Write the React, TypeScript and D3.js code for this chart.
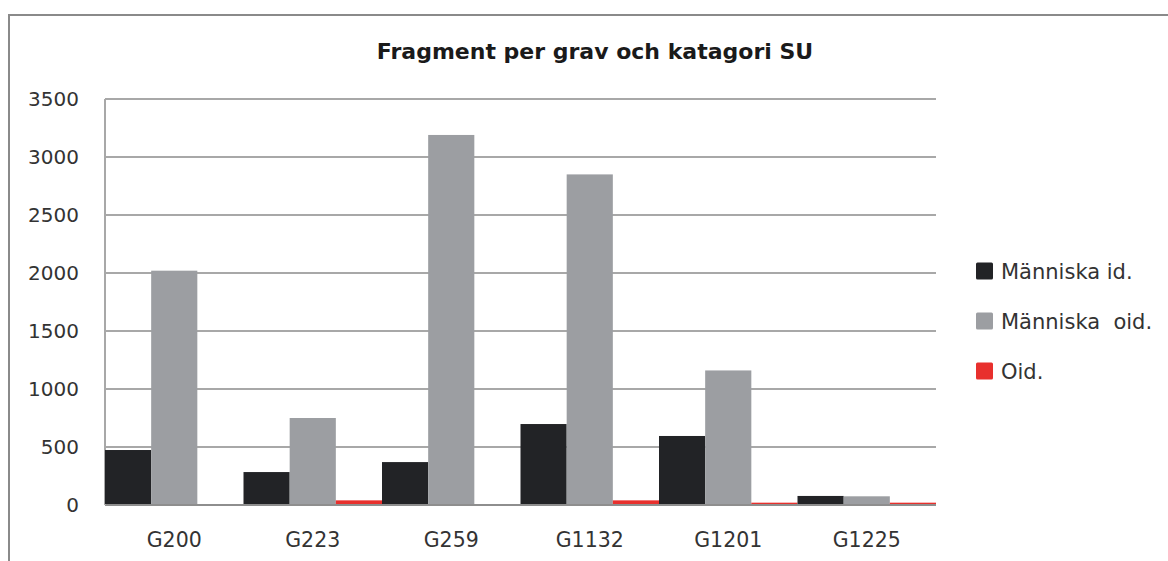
import { useMemo } from "react";
import * as d3 from "d3";

const graves = ["G200", "G223", "G259", "G1132", "G1201", "G1225"];
const seriesNames = ["Människa id.", "Människa  oid.", "Oid."];
const manniskaId = [474, 284, 370, 698, 595, 78];
const manniskaOid = [2020, 750, 3190, 2850, 1160, 75];
const oid = [0, 40, 0, 40, 20, 20];
const yTicks = [0, 500, 1000, 1500, 2000, 2500, 3000, 3500];
const colors = ["#222326", "#9c9ea2", "#e8302d"];

const W = 1168;
const H = 561;
const plot = { left: 105, right: 936, top: 99, bottom: 505 };
const font = "'DejaVu Sans', Verdana, sans-serif";

export default function App() {
  const series = [manniskaId, manniskaOid, oid];

  const x = useMemo(
    () => d3.scaleBand<string>().domain(graves).range([plot.left, plot.right]).padding(0),
    [],
  );
  const inner = useMemo(
    () => d3.scaleBand<number>().domain([0, 1, 2]).range([0, x.bandwidth()]).padding(0),
    [x],
  );
  const y = useMemo(
    () => d3.scaleLinear().domain([0, 3500]).range([plot.bottom, plot.top]),
    [],
  );

  return (
    <svg
      width={W}
      height={H}
      style={{ position: "absolute", left: 0, top: 0, background: "#fff" }}
    >
      {/* chart frame */}
      <path d={`M9,${H} L9,15 L${W},15`} fill="none" stroke="#8a8a8a" strokeWidth={2} />

      <text
        x={595}
        y={59}
        textAnchor="middle"
        fontFamily={font}
        fontWeight="bold"
        fontSize={22}
        fill="#1a1a1a"
      >
        Fragment per grav och katagori SU
      </text>

      {/* gridlines */}
      {yTicks.map((t) => (
        <line
          key={t}
          x1={plot.left}
          x2={plot.right}
          y1={y(t)}
          y2={y(t)}
          stroke={t === 0 ? "#8e8e8e" : "#a8a8a8"}
          strokeWidth={2}
        />
      ))}
      <line x1={plot.left} x2={plot.left} y1={plot.top} y2={plot.bottom} stroke="#a8a8a8" strokeWidth={2} />

      {yTicks.map((t) => (
        <text
          key={t}
          x={79}
          y={y(t)}
          dy="0.36em"
          textAnchor="end"
          fontFamily={font}
          fontSize={20}
          fill="#333"
        >
          {t}
        </text>
      ))}

      {/* bars */}
      {graves.map((g, gi) => (
        <g key={g} transform={`translate(${x(g)},0)`}>
          {series.map((s, si) => {
            const v = s[gi];
            if (!v) return null;
            return (
              <rect
                key={si}
                x={inner(si)}
                y={y(v)}
                width={inner.bandwidth()}
                height={y(0) - y(v) - 1}
                fill={colors[si]}
              />
            );
          })}
        </g>
      ))}

      {graves.map((g) => (
        <text
          key={g}
          x={(x(g) ?? 0) + x.bandwidth() / 2}
          y={547}
          textAnchor="middle"
          fontFamily={font}
          fontSize={20.5}
          fill="#333"
        >
          {g}
        </text>
      ))}

      {/* legend */}
      {seriesNames.map((name, i) => (
        <g key={name} transform={`translate(976,${271 + i * 50})`}>
          <rect x={0} y={-8.5} width={17} height={17} rx={1.5} fill={colors[i]} />
          <text
            x={25}
            y={0}
            dy="0.36em"
            fontFamily={font}
            fontSize={21}
            fill="#333"
            style={{ whiteSpace: "pre" }}
          >
            {name}
          </text>
        </g>
      ))}
    </svg>
  );
}
